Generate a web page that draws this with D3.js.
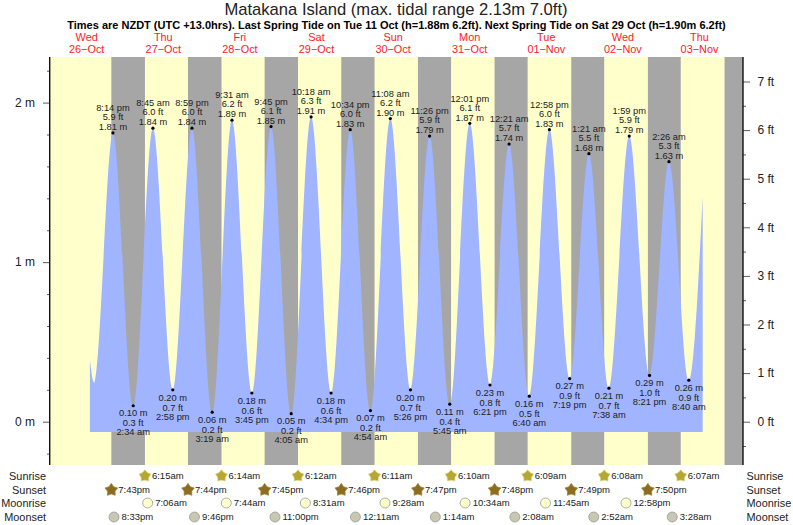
<!DOCTYPE html>
<html><head><meta charset="utf-8">
<script src="https://cdn.jsdelivr.net/npm/d3@7"></script>
<style>html,body{margin:0;padding:0;background:#fff}svg{display:block}text{font-family:"Liberation Sans",Arial,sans-serif;fill:#222}</style>
</head><body><svg id="c" width="793" height="525"></svg>
<script>
const titleText = "Matakana Island (max. tidal range 2.13m 7.0ft)";
const subtitleText = "Times are NZDT (UTC +13.0hrs). Last Spring Tide on Tue 11 Oct (h=1.88m 6.2ft). Next Spring Tide on Sat 29 Oct (h=1.90m 6.2ft)";
const dayNames = ["Wed","Thu","Fri","Sat","Sun","Mon","Tue","Wed","Thu"];
const dayDates = ["26-Oct","27-Oct","28-Oct","29-Oct","30-Oct","31-Oct","01-Nov","02-Nov","03-Nov"];
const dayStarts = ["2022-10-26","2022-10-27","2022-10-28","2022-10-29","2022-10-30","2022-10-31","2022-11-01","2022-11-02","2022-11-03"];

const highTimes = ["10-26 8:14 PM","10-27 8:45 AM","10-27 8:59 PM","10-28 9:31 AM","10-28 9:45 PM","10-29 10:18 AM","10-29 10:34 PM","10-30 11:08 AM","10-30 11:26 PM","10-31 12:01 PM","11-01 12:21 AM","11-01 12:58 PM","11-02 1:21 AM","11-02 1:59 PM","11-03 2:26 AM"];
const highMetres = [1.81,1.84,1.84,1.89,1.85,1.91,1.83,1.90,1.79,1.87,1.74,1.83,1.68,1.79,1.63];
const highFeet = ["5.9","6.0","6.0","6.2","6.1","6.3","6.0","6.2","5.9","6.1","5.7","6.0","5.5","5.9","5.3"];
const lowTimes = ["10-27 2:34 AM","10-27 2:58 PM","10-28 3:19 AM","10-28 3:45 PM","10-29 4:05 AM","10-29 4:34 PM","10-30 4:54 AM","10-30 5:26 PM","10-31 5:45 AM","10-31 6:21 PM","11-01 6:40 AM","11-01 7:19 PM","11-02 7:38 AM","11-02 8:21 PM","11-03 8:40 AM"];
const lowMetres = [0.10,0.20,0.06,0.18,0.05,0.18,0.07,0.20,0.11,0.23,0.16,0.27,0.21,0.29,0.26];
const lowFeet = ["0.3","0.7","0.2","0.6","0.2","0.6","0.2","0.7","0.4","0.8","0.5","0.9","0.7","1.0","0.9"];
// unlabelled ends of the tide curve
const curveStart = [["10-26 1:00 PM",0.386],["10-26 2:18 PM",0.243]];
const curveEnd = [["11-03 1:00 PM",1.41]];
const curveFloor = -0.065;

const sunrises = ["10-27 6:15 AM","10-28 6:14 AM","10-29 6:12 AM","10-30 6:11 AM","10-31 6:10 AM","11-01 6:09 AM","11-02 6:08 AM","11-03 6:07 AM"];
const sunsets = ["10-26 7:43 PM","10-27 7:44 PM","10-28 7:45 PM","10-29 7:46 PM","10-30 7:47 PM","10-31 7:48 PM","11-01 7:49 PM","11-02 7:50 PM"];
const lastSunset = "11-03 7:51 PM";
const moonrises = ["10-27 7:06 AM","10-28 7:44 AM","10-29 8:31 AM","10-30 9:28 AM","10-31 10:34 AM","11-01 11:45 AM","11-02 12:58 PM"];
const moonsets = ["10-26 8:33 PM","10-27 9:46 PM","10-28 11:00 PM","10-30 12:11 AM","10-31 1:14 AM","11-01 2:08 AM","11-02 2:52 AM","11-03 3:28 AM"];

const metreMajor = [0,1,2];
const metreMinor = [-0.2,0.2,0.4,0.6,0.8,1.2,1.4,1.6,1.8,2.2];
const feetMajor = [0,1,2,3,4,5,6,7];
const feetMinor = [-0.5,0.5,1.5,2.5,3.5,4.5,5.5,6.5];

const parse = d3.utcParse("%Y-%m-%d %I:%M %p");
const T = s => parse("2022-" + s);
const shortClock = s => s.split(" ").slice(1).join(" ").toLowerCase();
const tightClock = s => shortClock(s).replace(" ","");

const svg = d3.select("#c");
const L = 50, R = 743, TOP = 57, BOT = 465;
const x = d3.scaleUtc().domain([d3.utcParse("%Y-%m-%d")("2022-10-26"), d3.utcParse("%Y-%m-%d")("2022-11-04")]).range([48.4, 737.8]);
const y = d3.scaleLinear().domain([0,2]).range([421.7,102.6]);
const yFt = d3.scaleLinear().domain([0,7]).range([421.7,81.5]);

svg.append("rect").attr("x",L).attr("y",TOP).attr("width",R-L).attr("height",BOT-TOP).attr("fill","#ffffcc");
const bandEnds = sunrises.concat([null]);
svg.append("g").selectAll("rect").data(sunsets.concat([lastSunset])).join("rect")
  .attr("x",d=>x(T(d))).attr("y",TOP).attr("height",BOT-TOP)
  .attr("width",(d,i)=>(bandEnds[i]?x(T(bandEnds[i])):R)-x(T(d)))
  .attr("fill","#a6a6a6");

const highs = highTimes.map((t,i)=>({t,h:highMetres[i],ft:highFeet[i],hi:true}));
const lows = lowTimes.map((t,i)=>({t,h:lowMetres[i],ft:lowFeet[i],hi:false}));
const extremes = highs.concat(lows).sort((a,b)=>T(a.t)-T(b.t));
const curve = curveStart.map(d=>({t:d[0],h:d[1]})).concat(extremes, curveEnd.map(d=>({t:d[0],h:d[1]})));
svg.append("path").datum(curve).attr("fill","#a0b4ff").attr("d",
  d3.area().x(d=>x(T(d.t))).y0(y(curveFloor)).y1(d=>y(d.h)).curve(d3.curveMonotoneX));

const ext = svg.append("g").selectAll("g").data(extremes).join("g")
  .attr("transform",d=>`translate(${x(T(d.t))},${y(d.h)})`);
ext.append("circle").attr("r",1.6).attr("fill","#000");
const lbl = (sel,offHi,offLo,fn)=>sel.append("text").attr("text-anchor","middle").attr("font-size",9.3)
  .attr("y",d=>d.hi?offHi:offLo).attr("dy",".35em").text(fn);
lbl(ext,-6,7.5,d=>d.h.toFixed(2)+" m");
lbl(ext,-16,17.5,d=>d.ft+" ft");
lbl(ext,-25,26.5,d=>shortClock(d.t));

const axM = d3.axisLeft(y).tickValues(metreMajor).tickFormat(d=>d+" m").tickSize(7);
const gM = svg.append("g").attr("transform",`translate(${L},0)`).call(axM);
const gMm = svg.append("g").attr("transform",`translate(${L},0)`).call(d3.axisLeft(y).tickValues(metreMinor).tickFormat("").tickSize(3));
const gF = svg.append("g").attr("transform",`translate(${R},0)`).call(d3.axisRight(yFt).tickValues(feetMajor).tickFormat(d=>d+" ft").tickSize(7));
const gFm = svg.append("g").attr("transform",`translate(${R},0)`).call(d3.axisRight(yFt).tickValues(feetMinor).tickFormat("").tickSize(3));
[gM,gMm,gF,gFm].forEach(g=>{g.select(".domain").remove();g.selectAll("line").attr("stroke","#333").attr("stroke-width",0.8);
  g.selectAll("text").attr("font-size",12).style("font-family",'"Liberation Sans"').attr("fill","#222");});
gM.selectAll("text").attr("x",-15);gF.selectAll("text").attr("x",14.5);
svg.append("line").attr("x1",L-.3).attr("x2",L-.3).attr("y1",TOP).attr("y2",BOT).attr("stroke","#111").attr("stroke-width",1.4);
svg.append("line").attr("x1",R).attr("x2",R).attr("y1",TOP).attr("y2",BOT).attr("stroke","#111").attr("stroke-width",1.4);

svg.append("text").attr("x",396).attr("y",15).attr("text-anchor","middle").attr("font-size",16.6).text(titleText);
svg.append("text").attr("x",396.5).attr("y",29).attr("text-anchor","middle").attr("font-size",11).attr("font-weight","bold").style("fill","#000").text(subtitleText);

const noon = d=>x(d3.utcHour.offset(d3.utcParse("%Y-%m-%d")(d),12));
const dayG = svg.append("g").selectAll("g").data(dayStarts).join("g");
dayG.append("text").attr("x",noon).attr("y",41).attr("text-anchor","middle").attr("font-size",10.9).style("fill","#ff2020").text((d,i)=>dayNames[i]);
dayG.append("text").attr("x",noon).attr("y",53).attr("text-anchor","middle").attr("font-size",10.9).style("fill","#ff2020").text((d,i)=>dayDates[i].replace("-","\u2212"));

// five-pointed glyph with a chosen waist, fatter than d3.symbolStar
const fatStar = ratio => ({draw(ctx,size){
  const r = Math.sqrt(size);
  for(let k=0;k<10;k++){
    const a = -Math.PI/2 + k*Math.PI/5, q = k%2 ? r*ratio : r;
    k ? ctx.lineTo(q*Math.cos(a),q*Math.sin(a)) : ctx.moveTo(q*Math.cos(a),q*Math.sin(a));
  }
  ctx.closePath();
}});
const rows = [
 {name:"Sunrise",y:476,data:sunrises,kind:"star",ratio:.66,area:40,fill:"#b5a72f",stroke:"#e2dc9c",gap:7},
 {name:"Sunset",y:490,data:sunsets,kind:"star",ratio:.6,area:44,fill:"#8c6d1f",stroke:"#9c8238",gap:7},
 {name:"Moonrise",y:503,data:moonrises,kind:"moon",fill:"#ffffcc",stroke:"#999",gap:7.5},
 {name:"Moonset",y:517,data:moonsets,kind:"moon",fill:"#c8c8b0",stroke:"#999",gap:7.5}];
rows.forEach(r=>{
  const g = svg.append("g");
  g.append("text").attr("x",46).attr("y",r.y).attr("dy",".35em").attr("text-anchor","end").attr("font-size",10.9).text(r.name);
  g.append("text").attr("x",746.5).attr("y",r.y).attr("dy",".35em").attr("font-size",10.9).text(r.name);
  const it = g.selectAll("g").data(r.data).join("g").attr("transform",d=>`translate(${x(T(d))},${r.y})`);
  if(r.kind==="star") it.append("path").attr("d",d3.symbol(fatStar(r.ratio),r.area)()).attr("fill",r.fill).attr("stroke",r.stroke).attr("stroke-width",.7);
  else it.append("circle").attr("r",5).attr("fill",r.fill).attr("stroke",r.stroke).attr("stroke-width",.8);
  it.append("text").attr("x",r.gap).attr("dy",".35em").attr("font-size",9.5).text(tightClock);
});
</script></body></html>
